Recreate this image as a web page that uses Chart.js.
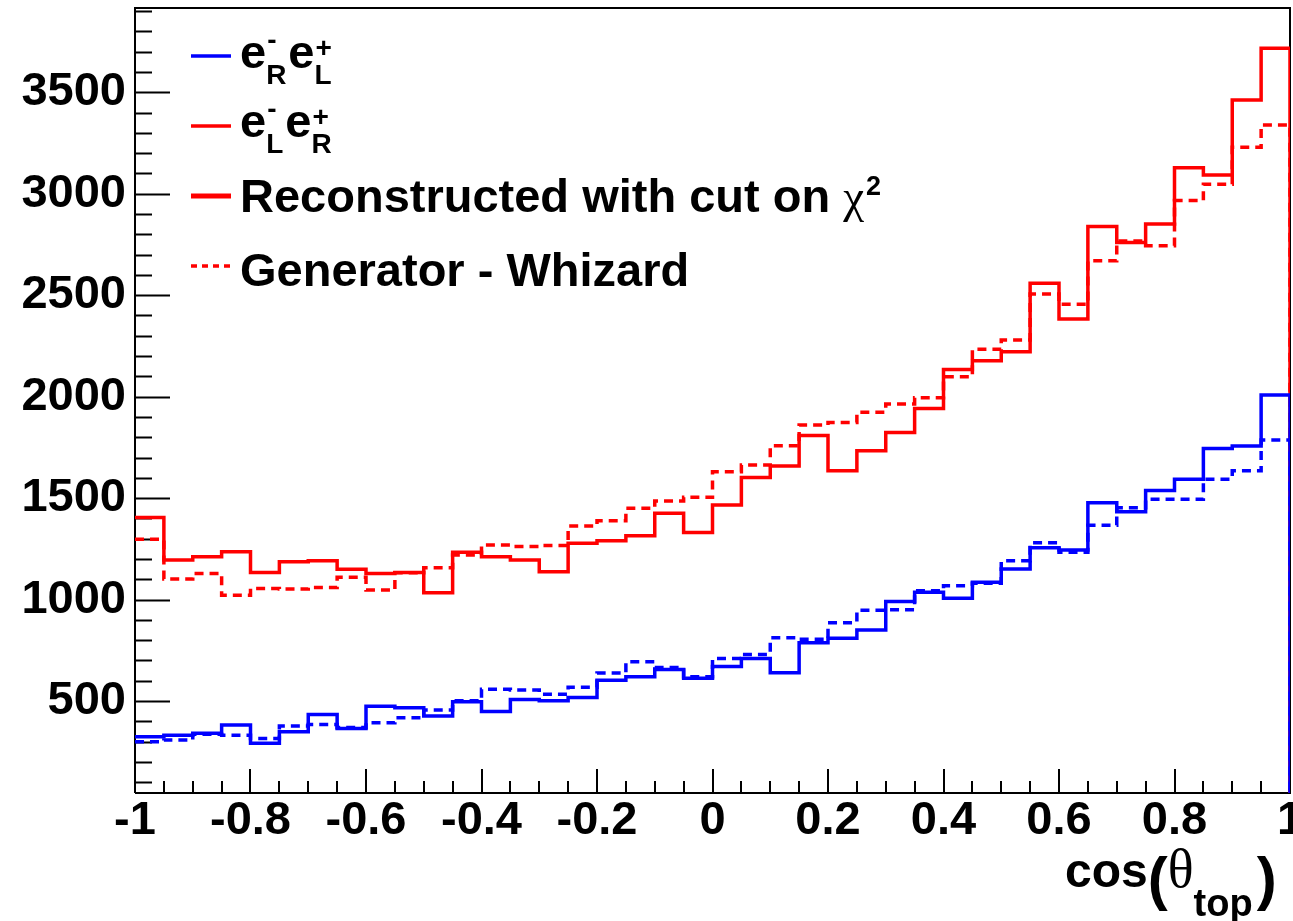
<!DOCTYPE html>
<html>
<head>
<meta charset="utf-8">
<script src="https://cdn.jsdelivr.net/npm/chart.js@4.4.1/dist/chart.umd.min.js"></script>
<style>
  html, body { margin: 0; padding: 0; background: #fff; }
</style>
</head>
<body>
<canvas id="grafico" width="1293" height="921"></canvas>
<script>
// binning of cos(theta_top)
const xMin = -1, xMax = 1, nBins = 40;
const xTicks = [-1, -0.8, -0.6, -0.4, -0.2, 0, 0.2, 0.4, 0.6, 0.8, 1];
const yTicks = [500, 1000, 1500, 2000, 2500, 3000, 3500];
const yMin = 47, yMax = 3915;

// e-L e+R : reconstructed with cut on chi2 (red solid)
const recoLR = [1405, 1195, 1211, 1236, 1134, 1187, 1192, 1150, 1129, 1134,
                1034, 1233, 1211, 1195, 1137, 1277, 1290, 1315, 1425, 1330,
                1466, 1601, 1658, 1808, 1635, 1734, 1823, 1942, 2134, 2177,
                2221, 2559, 2383, 2838, 2759, 2851, 3128, 3092, 3462, 3717];
// e-L e+R : generator Whizard (red dashed)
const genLR = [1297, 1101, 1129, 1022, 1055, 1052, 1060, 1110, 1047, 1132,
               1157, 1220, 1269, 1262, 1267, 1362, 1389, 1450, 1486, 1504,
               1630, 1663, 1758, 1860, 1872, 1923, 1964, 1995, 2098, 2233,
               2279, 2506, 2455, 2669, 2767, 2744, 2966, 3047, 3229, 3339];
// e-R e+L : reconstructed (blue solid)
const recoRL = [324, 332, 341, 382, 292, 349, 434, 365, 475, 467,
                426, 497, 449, 508, 501, 518, 603, 620, 656, 612,
                670, 710, 639, 787, 809, 850, 991, 1036, 1006, 1085,
                1151, 1256, 1244, 1477, 1433, 1537, 1593, 1745, 1757, 2008];
// e-R e+L : generator (blue dashed)
const genRL = [300, 308, 337, 332, 316, 377, 385, 370, 393, 418,
               456, 501, 558, 554, 533, 568, 638, 694, 666, 620,
               710, 730, 812, 804, 886, 948, 950, 1044, 1068, 1080,
               1191, 1280, 1233, 1366, 1453, 1494, 1494, 1593, 1635, 1786];

const binWidth = (xMax - xMin) / nBins;
// histogram outline: one point per bin low edge, then drop at the upper edge
function histo(values) {
  const pts = values.map((v, i) => ({ x: xMin + i * binWidth, y: v }));
  pts.push({ x: xMax, y: 0 });
  return pts;
}

const bold = s => `bold ${s}px "Liberation Sans", Arial, Helvetica, sans-serif`;
const symb = s => `${s}px "Liberation Serif", "DejaVu Serif", serif`;

function particle(ctx, x, y, sup, sub) {
  ctx.font = bold(47);
  ctx.fillText('e', x, y);
  x += ctx.measureText('e').width;
  ctx.font = bold(28);
  ctx.fillText(sup, x + 1, y + (sup === '+' ? -11 : -19));
  ctx.fillText(sub, x, y + 16);
  return x + Math.max(ctx.measureText(sup).width, ctx.measureText(sub).width) + 2;
}

function legendLine(ctx, y, color, width, dash) {
  ctx.save();
  ctx.strokeStyle = color;
  ctx.lineWidth = width;
  ctx.setLineDash(dash || []);
  ctx.beginPath();
  ctx.moveTo(191, y);
  ctx.lineTo(231, y);
  ctx.stroke();
  ctx.restore();
}

const rootStyle = {
  id: 'rootStyle',
  beforeDatasetsDraw(chart) {
    const { ctx, chartArea: a, scales: { x, y } } = chart;
    ctx.save();
    ctx.strokeStyle = '#000';
    ctx.lineWidth = 2;
    ctx.beginPath();
    // y ticks: major every 500, minor every 100
    for (let v = 100; v < yMax; v += 100) {
      if (v < yMin) continue;
      const py = Math.round(y.getPixelForValue(v)) + 0.5;
      const len = v % 500 === 0 ? 35 : 17;
      ctx.moveTo(a.left, py);
      ctx.lineTo(a.left + len, py);
    }
    // x ticks: major every 0.2, minor every bin
    for (let k = 0; k <= nBins; k++) {
      const px = Math.round(x.getPixelForValue(xMin + k * binWidth));
      const len = k % 4 === 0 ? 24 : 12;
      ctx.moveTo(px, a.bottom);
      ctx.lineTo(px, a.bottom - len);
    }
    ctx.stroke();
    // frame
    ctx.beginPath();
    ctx.moveTo(a.left, a.bottom);
    ctx.lineTo(a.left, a.top);
    ctx.lineTo(a.right, a.top);
    ctx.lineTo(a.right, a.bottom);
    ctx.lineTo(a.left, a.bottom);
    ctx.stroke();
    ctx.restore();
  },
  afterDraw(chart) {
    const ctx = chart.ctx;
    ctx.save();
    ctx.fillStyle = '#000';
    ctx.textBaseline = 'alphabetic';
    ctx.textAlign = 'left';

    // legend
    legendLine(ctx, 56, '#0000ff', 3.5);
    let x = particle(ctx, 240, 68, '-', 'R');
    particle(ctx, x, 68, '+', 'L');

    legendLine(ctx, 126, '#ff0000', 3.5);
    x = particle(ctx, 240, 137, '-', 'L');
    particle(ctx, x, 137, '+', 'R');

    legendLine(ctx, 196, '#ff0000', 5);
    ctx.font = bold(47);
    const txt = 'Reconstructed with cut on ';
    ctx.fillText(txt, 240, 212);
    x = 240 + ctx.measureText(txt).width;
    ctx.font = symb(47);
    ctx.fillText('\u03c7', x, 212);
    x += ctx.measureText('\u03c7').width + 2;
    ctx.font = bold(27);
    ctx.fillText('2', x, 195);

    legendLine(ctx, 266, '#ff0000', 3.5, [6, 5]);
    ctx.font = bold(47);
    ctx.fillText('Generator - Whizard', 240, 286);

    // x axis title cos(theta_top)
    x = 1065;
    ctx.font = bold(48);
    ctx.fillText('cos', x, 887);
    x += ctx.measureText('cos').width;
    ctx.font = bold(60);
    ctx.fillText('(', x, 899);
    x += ctx.measureText('(').width;
    ctx.font = symb(54);
    ctx.fillText('\u03b8', x, 887);
    x += ctx.measureText('\u03b8').width;
    ctx.font = bold(38);
    ctx.fillText('top', x, 916);
    x += ctx.measureText('top').width + 4;
    ctx.font = bold(60);
    ctx.fillText(')', x, 899);
    ctx.restore();
  }
};

const lineBase = {
  stepped: true,
  pointRadius: 0,
  fill: false,
  borderJoinStyle: 'miter',
  borderCapStyle: 'butt'
};

new Chart(document.getElementById('grafico'), {
  type: 'line',
  data: {
    datasets: [
      { ...lineBase, label: 'e-R e+L reco', data: histo(recoRL), borderColor: '#0000ff', borderWidth: 3.5, order: 1 },
      { ...lineBase, label: 'e-R e+L gen', data: histo(genRL), borderColor: '#0000ff', borderWidth: 3.5, borderDash: [9, 6], order: 2 },
      { ...lineBase, label: 'e-L e+R reco', data: histo(recoLR), borderColor: '#ff0000', borderWidth: 3.5, order: 3 },
      { ...lineBase, label: 'e-L e+R gen', data: histo(genLR), borderColor: '#ff0000', borderWidth: 3.5, borderDash: [9, 6], order: 4 }
    ]
  },
  options: {
    responsive: false,
    animation: false,
    devicePixelRatio: 1,
    layout: { padding: { top: 8, right: 3, left: 0, bottom: 0 } },
    plugins: { legend: { display: false }, tooltip: { enabled: false } },
    scales: {
      x: {
        type: 'linear',
        min: xMin,
        max: xMax,
        grid: { display: false, drawTicks: false },
        border: { display: false },
        afterBuildTicks: s => { s.ticks = xTicks.map(v => ({ value: v })); },
        afterFit: s => { s.height = 128; s.paddingLeft = 0; s.paddingRight = 0; },
        ticks: {
          color: '#000',
          font: { family: '"Liberation Sans", Arial, sans-serif', weight: 'bold', size: 47 },
          padding: 0,
          maxRotation: 0,
          autoSkip: false,
          callback: v => String(v)
        }
      },
      y: {
        min: yMin,
        max: yMax,
        grid: { display: false, drawTicks: false },
        border: { display: false },
        afterBuildTicks: s => { s.ticks = yTicks.map(v => ({ value: v })); },
        afterFit: s => { s.width = 135; s.paddingTop = 0; s.paddingBottom = 0; },
        ticks: {
          color: '#000',
          font: { family: '"Liberation Sans", Arial, sans-serif', weight: 'bold', size: 47 },
          padding: 9,
          callback: v => String(v)
        }
      }
    }
  },
  plugins: [rootStyle]
});
</script>
</body>
</html>
